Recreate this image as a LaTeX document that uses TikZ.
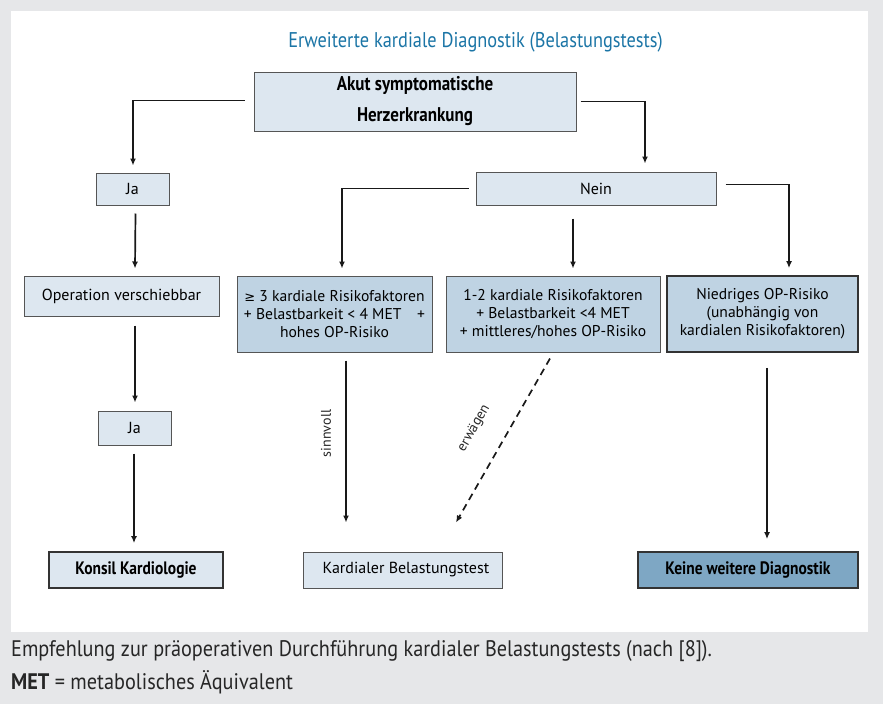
\documentclass[tikz,border=0pt]{standalone}
\usepackage{fontspec}
\setmainfont{PT Sans}
\newfontfamily\condfont[FakeStretch=0.86]{PT Sans}
\newfontfamily\capfont[FakeStretch=0.9]{PT Sans}
\newfontfamily\symf{DejaVu Sans}
\usetikzlibrary{arrows.meta,calc}
\definecolor{bg}{HTML}{E6E7E9}
\definecolor{lightbox}{HTML}{DDE7F0}
\definecolor{midbox}{HTML}{BFD3E3}
\definecolor{darkbox}{HTML}{7EA7C4}
\definecolor{titleblue}{HTML}{1B75A6}
\definecolor{edge}{HTML}{555555}
\tikzset{
  box/.style={draw=edge, line width=1pt, fill=lightbox, inner sep=0pt, align=center,
    font=\fontsize{16}{18}\selectfont},
  midb/.style={box, fill=midbox, font=\fontsize{15.6}{18}\selectfont},
  strong/.style={line width=1.8pt, draw=black!80},
  bfont/.style={font=\condfont\bfseries\fontsize{18}{18}\selectfont},
  conn/.style={line width=1.7pt, draw=black!90, -{Latex[length=7pt,width=6pt]}},
  lbl/.style={font=\fontsize{14}{16}\selectfont, text=black!85, inner sep=0pt}
}
\begin{document}
\begin{tikzpicture}[x=1pt,y=-1pt]
\useasboundingbox (0,0) rectangle (883,704);
\fill[bg] (0,0) rectangle (883,704);
\fill[white] (11,11) rectangle (868,632);

\node[font=\condfont\fontsize{21.3}{24}\selectfont, text=titleblue] (title) at (475.5,42) {Erweiterte kardiale Diagnostik (Belastungstests)};

% boxes
\node[box, minimum width=322, minimum height=59, font=\condfont\bfseries\fontsize{19.8}{31}\selectfont] (top) at (415,101.5) {Akut symptomatische\\Herzerkrankung};
\node[box, minimum width=73, minimum height=32] (ja1) at (132.5,189) {Ja};
\node[box, minimum width=240, minimum height=33] (nein) at (596,188.5) {Nein};
\node[box, minimum width=195, minimum height=40] (op) at (121.5,296) {Operation verschiebbar};
\node[midb, minimum width=195, minimum height=76] (ba) at (334.5,314) {{\symf\fontsize{13}{18}\selectfont ≥} 3 kardiale Risikofaktoren\\+ Belastbarkeit < 4 MET\hspace{1em}+\\hohes OP-Risiko};
\node[midb, minimum width=214, minimum height=76] (bb) at (553,314) {1-2 kardiale Risikofaktoren\\+ Belastbarkeit <4 MET\\+ mittleres/hohes OP-Risiko};
\node[midb, strong, minimum width=191, minimum height=76] (bc) at (762.5,314) {Niedriges OP-Risiko\\(unabhängig von\\kardialen Risikofaktoren)};
\node[box, minimum width=73, minimum height=34] (ja2) at (134.5,428) {Ja};
\node[box, strong, bfont, minimum width=174, minimum height=36] (konsil) at (136,570) {Konsil Kardiologie};
\node[box, minimum width=199, minimum height=36] (test) at (403,570) {\hspace{6pt}Kardialer Belastungstest};
\node[box, strong, bfont, fill=darkbox, minimum width=220, minimum height=36] (keine) at (748,570) {Keine weitere Diagnostik};

% connector end points
\coordinate (tl) at ($(top.west)+(-9,-1)$);
\coordinate (tr) at ($(top.east)+(4,0)$);
\coordinate (nl) at ($(nein.west)+(-7,0)$);
\coordinate (nr) at ($(nein.east)+(9,-4)$);

\draw[conn] (tl) -| ($(ja1.north)+(0.5,-7)$);
\draw[conn] (tr) -| ($(nein.north)+(49,-8)$);
\draw[conn] (nl) -| ($(ba.north)+(7.5,-7)$);
\draw[conn] ($(nein.south)+(-23,13)$) -- ($(bb.north)+(20,-7)$);
\draw[conn] (nr) -| ($(bc.north)+(26.5,-7)$);
\draw[conn] ($(ja1.south)+(3,8)$) -- ($(op.north)+(13.5,-7)$);
\draw[conn] ($(op.south)+(13.5,9)$) -- ($(ja2.north)+(0.5,-8)$);
\draw[conn] ($(ja2.south)+(-0.5,8)$) -- ($(konsil.north)+(-2,-8)$);
\draw[conn] ($(ba.south)+(11.5,8)$) -- node[lbl, rotate=90, pos=0.45, above=14pt] (l1) {sinnvoll} ($(test.north)+(-57,-29)$);
\draw[conn, dashed, dash pattern=on 7pt off 5pt] ($(bb.south)+(-3,6)$) -- node[lbl, sloped, pos=0.52, above=24pt] (l2) {erwägen} ($(test.north)+(53,-29)$);
\draw[conn] ($(bc.south)+(4.5,15)$) -- ($(keine.north)+(19,-12)$);

% caption
\node[anchor=west, font=\capfont\fontsize{22.5}{24}\selectfont, text=black!85, inner sep=0pt] (cap1) at (11,651) {Empfehlung zur präoperativen Durchführung kardialer Belastungstests (nach [8]).};
\node[anchor=west, font=\capfont\fontsize{22.5}{24}\selectfont, text=black!85, inner sep=0pt] (cap2) at (11,682) {\textbf{MET} = metabolisches Äquivalent};
\end{tikzpicture}
\end{document}
